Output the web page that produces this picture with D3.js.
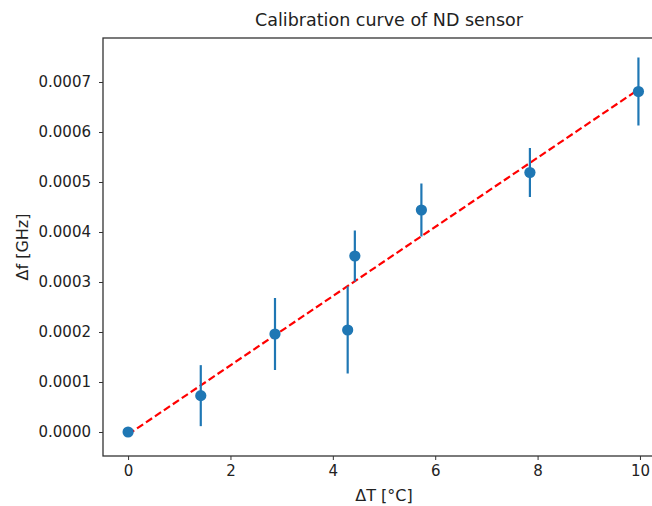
<!DOCTYPE html>
<html>
<head>
<meta charset="utf-8">
<script src="https://cdn.jsdelivr.net/npm/d3@7"></script>
<style>
  body { margin: 0; background: #fff; }
  svg { display: block; overflow: hidden; }
  text { font-family: "DejaVu Sans", sans-serif; fill: #222; }
</style>
</head>
<body>
<div id="chart"></div>
<script>
// measured points (ΔT in °C, Δf in GHz) with symmetric error
const deltaT = [0, 1.42, 2.87, 4.29, 4.43, 5.73, 7.85, 9.97];
const deltaF = [0, 0.0000727, 0.000196, 0.000204, 0.000352, 0.000444, 0.000519, 0.000681];
const errF = [0, 0.000061, 0.000072, 0.000087, 0.000051, 0.000053, 0.000049, 0.000068];

// linear fit
const fitSlope = 0.0000692;
const fitIntercept = -0.000005;
const fitRange = [0, 9.97];

const xTicks = [0, 2, 4, 6, 8, 10];
const yTicks = [0, 0.0001, 0.0002, 0.0003, 0.0004, 0.0005, 0.0006, 0.0007];

const W = 652, H = 506;
const margin = {top: 38, left: 103, bottom: 50};
const plotRight = 663; // right spine falls outside the picture

const svg = d3.select("#chart")
  .append("svg")
  .attr("width", W)
  .attr("height", H);

const x = d3.scaleLinear()
  .domain([-0.49, 10.45])
  .range([margin.left, plotRight]);

const y = d3.scaleLinear()
  .domain([-0.000048, 0.000788])
  .range([H - margin.bottom, margin.top]);

// fit line
const fitData = fitRange.map(t => [t, fitIntercept + fitSlope * t]);
svg.append("path")
  .datum(fitData)
  .attr("d", d3.line().x(d => x(d[0])).y(d => y(d[1])))
  .attr("fill", "none")
  .attr("stroke", "#ff0000")
  .attr("stroke-width", 2.2)
  .attr("stroke-dasharray", "7.4,3.4");

const pts = deltaT.map((t, i) => ({t: t, f: deltaF[i], e: errF[i]}));

// error bars
svg.append("g").selectAll("line")
  .data(pts.filter(d => d.e > 0))
  .join("line")
    .attr("x1", d => x(d.t))
    .attr("x2", d => x(d.t))
    .attr("y1", d => y(d.f - d.e))
    .attr("y2", d => y(d.f + d.e))
    .attr("stroke", "#1f77b4")
    .attr("stroke-width", 2.2);

// markers
svg.append("g").selectAll("circle")
  .data(pts)
  .join("circle")
    .attr("cx", d => x(d.t))
    .attr("cy", d => y(d.f))
    .attr("r", 5.6)
    .attr("fill", "#1f77b4");

// axes
const xAxis = svg.append("g")
  .attr("transform", `translate(0,${H - margin.bottom})`)
  .call(d3.axisBottom(x).tickValues(xTicks).tickFormat(d3.format("d")).tickSize(4).tickPadding(5));

const yAxis = svg.append("g")
  .attr("transform", `translate(${margin.left},0)`)
  .call(d3.axisLeft(y).tickValues(yTicks).tickFormat(d3.format(".4f")).tickSize(4).tickPadding(8));

[xAxis, yAxis].forEach(a => {
  a.select(".domain").remove();
  a.selectAll(".tick line").attr("stroke", "#333").attr("stroke-width", 1);
  a.selectAll(".tick text").style("font-size", "15px").attr("fill", "#222");
});

// frame
svg.append("rect")
  .attr("x", margin.left)
  .attr("y", margin.top)
  .attr("width", plotRight - margin.left)
  .attr("height", H - margin.bottom - margin.top)
  .attr("fill", "none")
  .attr("stroke", "#333")
  .attr("stroke-width", 1.3);

// labels
svg.append("text")
  .attr("x", 389)
  .attr("y", 26)
  .attr("text-anchor", "middle")
  .style("font-size", "17.5px")
  .text("Calibration curve of ND sensor");

svg.append("text")
  .attr("x", 384)
  .attr("y", 501)
  .attr("text-anchor", "middle")
  .style("font-size", "16px")
  .text("ΔT [°C]");

svg.append("text")
  .attr("transform", "translate(28,247) rotate(-90)")
  .attr("text-anchor", "middle")
  .style("font-size", "16px")
  .text("Δf [GHz]");
</script>
</body>
</html>
